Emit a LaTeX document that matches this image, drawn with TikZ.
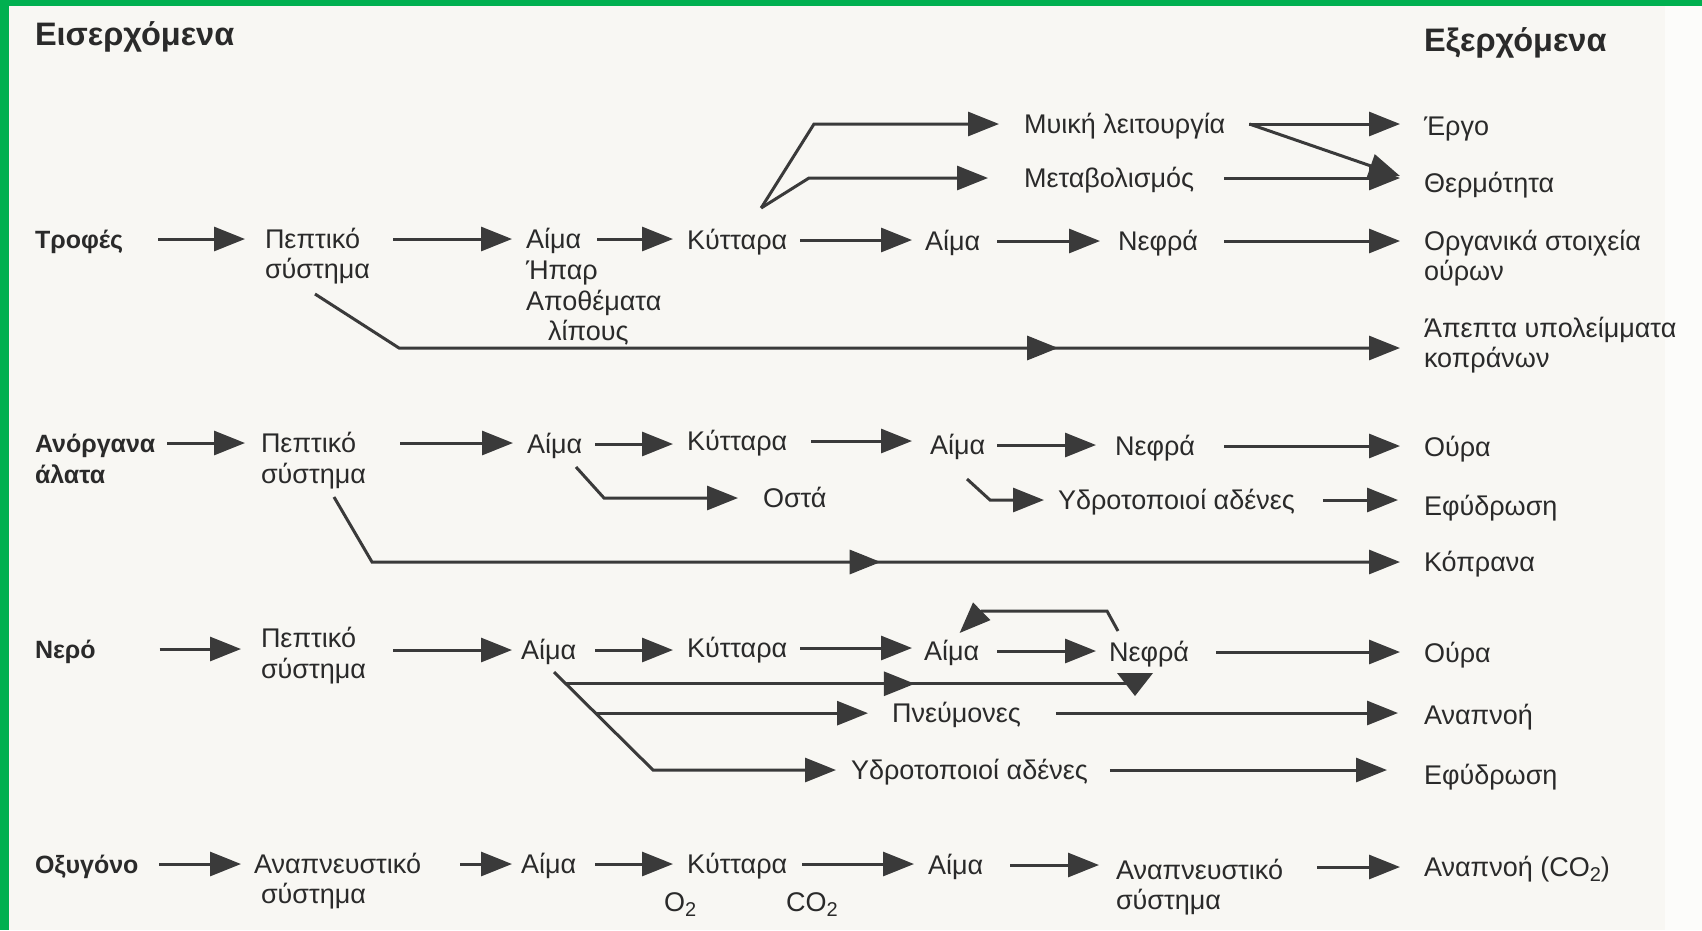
\documentclass[tikz,border=0pt]{standalone}
\usepackage{fontspec}
\setmainfont{Liberation Sans}
\usetikzlibrary{arrows.meta,calc,decorations.markings}
\definecolor{ink}{HTML}{2A2A2A}
\definecolor{arrc}{HTML}{3A3A3A}
\definecolor{bgc}{HTML}{F8F7F3}
\definecolor{framec}{HTML}{00B050}
\newcommand{\subtwo}{\raisebox{-0.35ex}{\fontsize{20}{20}\selectfont 2}}
\begin{document}
\begin{tikzpicture}[x=1pt,y=-1pt,
  lbl/.style={anchor=west,inner sep=0pt,outer sep=0pt,text height=20pt,text depth=2pt,text=ink,font=\fontsize{27}{30}\selectfont},
  blbl/.style={lbl,font=\fontsize{25}{30}\selectfont\bfseries},
  ttl/.style={lbl,font=\fontsize{32.5}{36}\selectfont\bfseries},
  ln/.style={draw=arrc,line width=3pt},
  arr/.style={ln,-{Triangle[length=31pt,width=24pt]}},
  midarr/.style={postaction={decorate},decoration={markings,mark=at position #1 with {\arrow[color=arrc]{Triangle[length=31pt,width=24pt]}}}}
]
\useasboundingbox (0,0) rectangle (1702,930);
\fill[bgc] (0,0) rectangle (1702,930);
\fill[white!60!bgc] (1665,6) rectangle (1702,930);
\fill[framec] (0,0) rectangle (1702,6);
\fill[framec] (0,0) rectangle (9,930);

% titles
\node[ttl] (tin) at (35,36) {Εισερχόμενα};
\node[ttl] (tout) at (1424,42) {Εξερχόμενα};

% ---------- row 1
\node[blbl] (trof) at (35,239) {Τροφές};
\node[lbl] (pep1) at (265,239) {Πεπτικό};
\node[lbl] (pep1b) at (265,269) {σύστημα};
\node[lbl] (aim1) at (526,239) {Αίμα};
\node[lbl] (aim1b) at (526,270) {Ήπαρ};
\node[lbl] (aim1c) at (526,301) {Αποθέματα};
\node[lbl] (aim1d) at (548,331) {λίπους};
\node[lbl] (kyt1) at (687,240) {Κύτταρα};
\node[lbl] (aimE1) at (925,241) {Αίμα};
\node[lbl] (nef1) at (1118,241) {Νεφρά};
\node[lbl] (org1) at (1424,241) {Οργανικά στοιχεία};
\node[lbl] (org1b) at (1424,271) {ούρων};
\node[lbl] (myik) at (1024,124) {Μυική λειτουργία};
\node[lbl] (metab) at (1024,178) {Μεταβολισμός};
\node[lbl] (ergo) at (1424,126) {Έργο};
\node[lbl] (therm) at (1424,183) {Θερμότητα};
\node[lbl] (apepta) at (1424,328) {Άπεπτα υπολείμματα};
\node[lbl] (apepta2) at (1424,358) {κοπράνων};

\draw[arr,shorten <=35pt,shorten >=20pt] (trof.east) -- (trof.east -| pep1.west);
\draw[arr,shorten <=33pt,shorten >=14pt] (pep1.east) -- (pep1.east -| aim1.west);
\draw[arr,shorten <=16pt,shorten >=14pt] (aim1.east) -- (aim1.east -| kyt1.west);
\draw[arr,shorten <=13pt,shorten >=13pt] (kyt1.east) -- (kyt1.east -| aimE1.west);
\draw[arr,shorten <=17pt,shorten >=18pt] (aimE1.east) -- (aimE1.east -| nef1.west);
\draw[arr,shorten <=26pt,shorten >=24pt] (nef1.east) -- (nef1.east -| org1.west);
\draw[arr,shorten <=24pt,shorten >=24pt] (myik.east) -- (myik.east -| ergo.west);
\draw[arr] ([xshift=24pt]myik.east) -- ([shift={(-24,-7)}]therm.west);
\draw[arr,shorten <=30pt,shorten >=24pt] (metab.east) -- (metab.east -| therm.west);
\coordinate (kv) at ([shift={(24,-21)}]kyt1.north);
\draw[arr,shorten >=25pt,line join=miter] (kv) -- ([xshift=-210pt]myik.west) -- (myik.west);
\draw[arr,shorten >=36pt,line join=miter] (kv) -- ([xshift=-215pt]metab.west) -- (metab.west);
\draw[arr,shorten >=24pt,midarr=759pt] ([shift={(50,14)}]pep1b.south west) -- ([shift={(-1025,-10)}]apepta2.west) -- ([yshift=10pt]apepta2.west);

% ---------- row 2
\node[blbl] (anorg) at (35,443) {Ανόργανα};
\node[blbl] (anorgb) at (35,474) {άλατα};
\node[lbl] (pep2) at (261,443) {Πεπτικό};
\node[lbl] (pep2b) at (261,474) {σύστημα};
\node[lbl] (aim2) at (527,444) {Αίμα};
\node[lbl] (kyt2) at (687,441) {Κύτταρα};
\node[lbl] (aimE2) at (930,445) {Αίμα};
\node[lbl] (nef2) at (1115,446) {Νεφρά};
\node[lbl] (oura2) at (1424,447) {Ούρα};
\node[lbl] (osta) at (763,498) {Οστά};
\node[lbl] (ydro2) at (1058,500) {Υδροτοποιοί αδένες};
\node[lbl] (efid2) at (1424,506) {Εφύδρωση};
\node[lbl] (kopr) at (1424,562) {Κόπρανα};

\draw[arr,shorten <=12pt,shorten >=16pt] (anorg.east) -- (anorg.east -| pep2.west);
\draw[arr,shorten <=44pt,shorten >=14pt] (pep2.east) -- (pep2.east -| aim2.west);
\draw[arr,shorten <=13pt,shorten >=14pt] (aim2.east) -- (aim2.east -| kyt2.west);
\draw[arr,shorten <=24pt,shorten >=18pt] (kyt2.east) -- (kyt2.east -| aimE2.west);
\draw[arr,shorten <=12pt,shorten >=19pt] (aimE2.east) -- (aimE2.east -| nef2.west);
\draw[arr,shorten <=29pt,shorten >=24pt] (nef2.east) -- (nef2.east -| oura2.west);
\draw[arr,shorten >=25pt] ([shift={(49,12)}]aim2.south west) -- ([xshift=-159pt]osta.west) -- (osta.west);
\draw[arr,shorten >=14pt] ([shift={(37,23)}]aimE2.south west) -- ([xshift=-68pt]ydro2.west) -- (ydro2.west);
\draw[arr,shorten <=28pt,shorten >=26pt] (ydro2.east) -- (ydro2.east -| efid2.west);
\draw[arr,shorten >=24pt,midarr=584pt] ([shift={(73,12)}]pep2b.south west) -- ([xshift=-1052pt]kopr.west) -- (kopr.west);

% ---------- row 3
\node[blbl] (nero) at (35,649) {Νερό};
\node[lbl] (pep3) at (261,638) {Πεπτικό};
\node[lbl] (pep3b) at (261,669) {σύστημα};
\node[lbl] (aim3) at (521,650) {Αίμα};
\node[lbl] (kyt3) at (687,648) {Κύτταρα};
\node[lbl] (aimE3) at (924,651) {Αίμα};
\node[lbl] (nef3) at (1109,652) {Νεφρά};
\node[lbl] (oura3) at (1424,653) {Ούρα};
\node[lbl] (pnev) at (892,713) {Πνεύμονες};
\node[lbl] (anapn3) at (1424,715) {Αναπνοή};
\node[lbl] (ydro3) at (851,770) {Υδροτοποιοί αδένες};
\node[lbl] (efid3) at (1424,775) {Εφύδρωση};

\draw[arr,shorten <=64pt,shorten >=20pt] (nero.east) -- (nero.east -| pep3.west);
\draw[arr,shorten <=37pt,shorten >=9pt] (aim3.west -| pep3.east) -- (aim3.west);
\draw[arr,shorten <=19pt,shorten >=14pt] (aim3.east) -- (aim3.east -| kyt3.west);
\draw[arr,shorten <=13pt,shorten >=12pt] (kyt3.east) -- (kyt3.east -| aimE3.west);
\draw[arr,shorten <=18pt,shorten >=13pt] (aimE3.east) -- (aimE3.east -| nef3.west);
\draw[arr,shorten <=27pt,shorten >=24pt] (nef3.east) -- (nef3.east -| oura3.west);
\draw[arr,line join=miter] ([shift={(9,-10)}]nef3.north west) -- ++(-11,-20) -- ++(-125,0) -- ([shift={(8,-7)}]aimE3.north);
\coordinate (d0) at ([shift={(33,11)}]aim3.south west);
\coordinate (d3) at ([xshift=-198pt]ydro3.west);
\draw[arr,shorten >=15pt] (d0) -- (d3) -- (ydro3.west);
\coordinate (p1) at ($(d0)!0.12!(d3)$);
\coordinate (p2) at ($(d0)!0.42!(d3)$);
\coordinate (nefx) at ([xshift=31pt]nef3.south west);
\draw[ln,midarr=349pt] (p1) -- (p1 -| nefx);
\fill[arrc] ([shift={(8,10)}]nef3.south west) -- ++(36,0) -- ++(-18,23) -- cycle;
\draw[arr,shorten >=24pt] (p2) -- (p2 -| pnev.west);
\draw[arr,shorten <=35pt,shorten >=26pt] (pnev.east) -- (pnev.east -| anapn3.west);
\draw[arr,shorten <=22pt,shorten >=37pt] (ydro3.east) -- (ydro3.east -| efid3.west);

% ---------- row 4
\node[blbl] (oxyg) at (35,864) {Οξυγόνο};
\node[lbl] (anapS) at (254,864) {Αναπνευστικό};
\node[lbl] (anapSb) at (261,894) {σύστημα};
\node[lbl] (aim4) at (521,864) {Αίμα};
\node[lbl] (kyt4) at (687,864) {Κύτταρα};
\node[lbl] (o2) at (664,902) {O\subtwo};
\node[lbl] (co2) at (786,902) {CO\subtwo};
\node[lbl] (aimE4) at (928,865) {Αίμα};
\node[lbl] (anapS2) at (1116,870) {Αναπνευστικό};
\node[lbl] (anapS2b) at (1116,900) {σύστημα};
\node[lbl] (anapnCO) at (1424,867) {Αναπνοή (CO\subtwo)};

\draw[arr,shorten <=21pt,shorten >=13pt] (oxyg.east) -- (oxyg.east -| anapS.west);
\draw[arr,shorten <=39pt,shorten >=9pt] (anapS.east) -- (anapS.east -| aim4.west);
\draw[arr,shorten <=19pt,shorten >=14pt] (aim4.east) -- (aim4.east -| kyt4.west);
\draw[arr,shorten <=15pt,shorten >=14pt] (kyt4.east) -- (kyt4.east -| aimE4.west);
\draw[arr,shorten <=27pt,shorten >=17pt] (aimE4.east) -- (aimE4.east -| anapS2.west);
\draw[arr,shorten <=34pt,shorten >=24pt] (anapS2.east |- anapnCO.west) -- (anapnCO.west);
\end{tikzpicture}
\end{document}
